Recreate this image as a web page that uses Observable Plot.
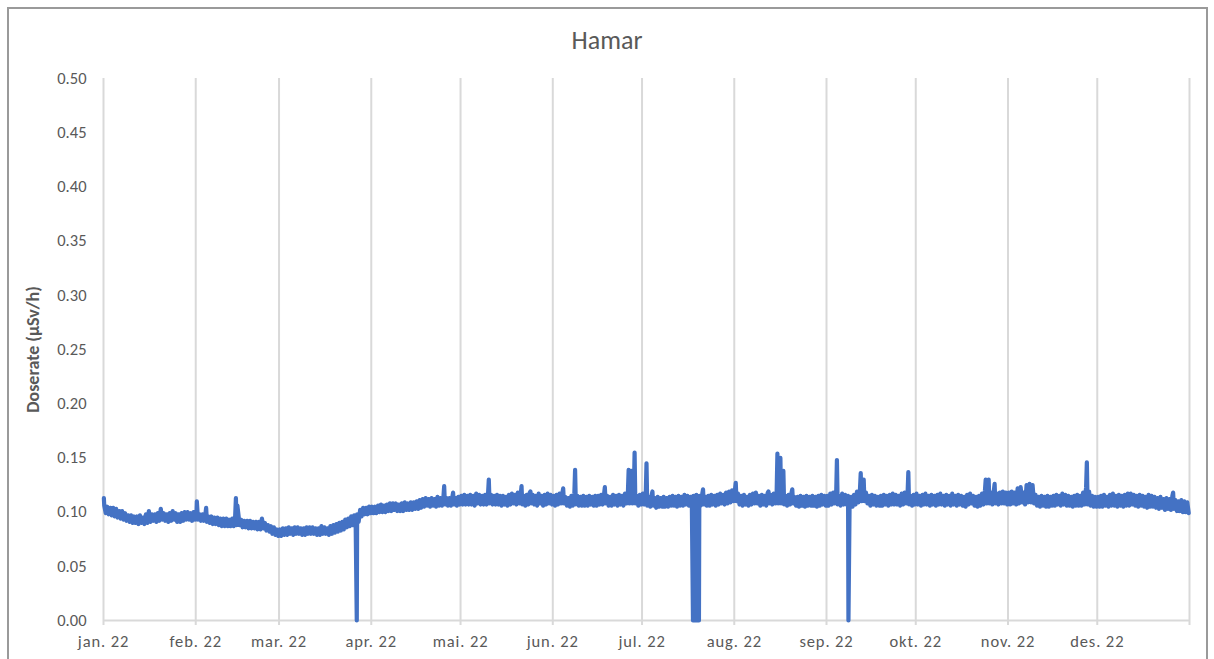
<!DOCTYPE html>
<html>
<head>
<meta charset="utf-8">
<script src="https://cdn.jsdelivr.net/npm/d3@7"></script>
<script src="https://cdn.jsdelivr.net/npm/@observablehq/plot@0.6"></script>
<style>
  html, body { margin: 0; padding: 0; background: #fff; }
  body { width: 1214px; height: 659px; position: relative; overflow: hidden; font-family: Calibri, Carlito, Lato, sans-serif; }
  #frame { position: absolute; left: 7px; top: 7px; width: 1201px; height: 700px; border: 2px solid #9a9a9a; box-sizing: border-box; }
  #title { position: absolute; left: 0; width: 1214px; top: 27px; line-height: 26px; text-align: center; font-size: 26px; color: #595959; }
  #chart { position: absolute; left: 0; top: 0; }
  #chart g[aria-label="x-axis tick label"] text { letter-spacing: 0.9px; }
</style>
</head>
<body>
<div id="frame"></div>
<div id="title">Hamar</div>
<div id="chart"></div>
<script>
// Readings every 12 h (06:00, 18:00) per month, µSv/h
const jan = [0.106,0.099, 0.105,0.098, 0.104,0.097, 0.104,0.096, 0.103,0.095, 0.101,0.094, 0.101,0.093, 0.099,0.092, 0.097,0.091, 0.097,0.090, 0.096,0.090, 0.096,0.089, 0.097,0.090, 0.095,0.089, 0.098,0.090, 0.101,0.091, 0.098,0.092, 0.098,0.091, 0.099,0.092, 0.103,0.093, 0.099,0.092, 0.098,0.091, 0.099,0.092, 0.101,0.093, 0.099,0.091, 0.098,0.091, 0.099,0.092, 0.100,0.093, 0.100,0.093, 0.099,0.092, 0.100,0.093];
const feb = [0.099,0.093, 0.098,0.092, 0.098,0.092, 0.098,0.091, 0.096,0.090, 0.096,0.089, 0.095,0.089, 0.095,0.088, 0.094,0.087, 0.094,0.087, 0.094,0.087, 0.093,0.087, 0.094,0.087, 0.096,0.088, 0.100,0.088, 0.093,0.086, 0.092,0.086, 0.092,0.085, 0.092,0.085, 0.091,0.085, 0.091,0.084, 0.091,0.084, 0.094,0.085, 0.090,0.083, 0.088,0.082, 0.087,0.080, 0.086,0.079, 0.084,0.078];
const mar = [0.084,0.078, 0.085,0.079, 0.085,0.079, 0.086,0.080, 0.085,0.079, 0.086,0.080, 0.086,0.080, 0.085,0.079, 0.085,0.079, 0.086,0.080, 0.086,0.080, 0.086,0.080, 0.085,0.079, 0.085,0.079, 0.087,0.080, 0.086,0.080, 0.085,0.079, 0.087,0.080, 0.088,0.081, 0.089,0.082, 0.090,0.083, 0.091,0.084, 0.093,0.086, 0.094,0.087, 0.096,0.088, 0.097,0.090, 0.098,0.091, 0.102,0.096, 0.104,0.098, 0.104,0.098, 0.105,0.099];
const apr = [0.105,0.099, 0.105,0.099, 0.106,0.100, 0.107,0.100, 0.106,0.100, 0.107,0.101, 0.108,0.101, 0.108,0.102, 0.108,0.101, 0.107,0.101, 0.108,0.101, 0.109,0.102, 0.108,0.102, 0.109,0.102, 0.109,0.103, 0.110,0.103, 0.111,0.104, 0.112,0.105, 0.113,0.106, 0.112,0.105, 0.113,0.106, 0.112,0.105, 0.114,0.106, 0.113,0.106, 0.114,0.107, 0.113,0.106, 0.113,0.106, 0.114,0.107, 0.113,0.106, 0.114,0.107];
const mai = [0.115,0.107, 0.116,0.107, 0.115,0.107, 0.116,0.107, 0.115,0.106, 0.117,0.108, 0.116,0.107, 0.115,0.107, 0.116,0.107, 0.117,0.108, 0.116,0.107, 0.115,0.107, 0.116,0.107, 0.115,0.106, 0.115,0.107, 0.114,0.106, 0.116,0.107, 0.117,0.108, 0.116,0.107, 0.118,0.108, 0.117,0.107, 0.115,0.106, 0.116,0.107, 0.118,0.108, 0.116,0.107, 0.115,0.106, 0.117,0.108, 0.115,0.106, 0.116,0.107, 0.117,0.108, 0.116,0.107];
const jun = [0.115,0.106, 0.116,0.107, 0.117,0.108, 0.118,0.108, 0.114,0.106, 0.113,0.105, 0.115,0.106, 0.117,0.107, 0.115,0.106, 0.114,0.106, 0.115,0.106, 0.114,0.106, 0.115,0.107, 0.114,0.106, 0.115,0.106, 0.115,0.107, 0.116,0.107, 0.117,0.108, 0.115,0.106, 0.114,0.106, 0.116,0.107, 0.115,0.106, 0.116,0.107, 0.115,0.106, 0.117,0.108, 0.118,0.108, 0.119,0.108, 0.118,0.108, 0.115,0.106, 0.116,0.107];
const jul = [0.117,0.107, 0.116,0.106, 0.114,0.105, 0.116,0.106, 0.113,0.104, 0.114,0.105, 0.113,0.105, 0.114,0.105, 0.113,0.105, 0.114,0.106, 0.115,0.106, 0.114,0.105, 0.115,0.106, 0.114,0.106, 0.116,0.107, 0.115,0.106, 0.114,0.105, 0.115,0.106, 0.116,0.107, 0.115,0.106, 0.117,0.107, 0.114,0.106, 0.115,0.106, 0.116,0.107, 0.115,0.106, 0.116,0.107, 0.117,0.108, 0.116,0.107, 0.118,0.108, 0.119,0.109, 0.120,0.110];
const aug = [0.121,0.110, 0.117,0.107, 0.115,0.106, 0.116,0.107, 0.114,0.106, 0.116,0.107, 0.117,0.108, 0.118,0.108, 0.115,0.106, 0.116,0.107, 0.115,0.106, 0.118,0.108, 0.116,0.107, 0.117,0.108, 0.119,0.108, 0.118,0.108, 0.117,0.107, 0.115,0.106, 0.116,0.107, 0.118,0.108, 0.114,0.106, 0.114,0.105, 0.115,0.106, 0.114,0.105, 0.115,0.106, 0.114,0.106, 0.115,0.106, 0.114,0.105, 0.115,0.106, 0.116,0.107, 0.115,0.106];
const sep = [0.115,0.106, 0.117,0.107, 0.118,0.108, 0.117,0.107, 0.115,0.106, 0.117,0.107, 0.116,0.107, 0.115,0.106, 0.114,0.105, 0.116,0.107, 0.119,0.109, 0.121,0.110, 0.123,0.110, 0.118,0.108, 0.115,0.106, 0.116,0.107, 0.115,0.106, 0.114,0.106, 0.115,0.106, 0.116,0.107, 0.115,0.106, 0.116,0.107, 0.117,0.107, 0.116,0.107, 0.115,0.106, 0.117,0.107, 0.118,0.108, 0.117,0.107, 0.115,0.106, 0.116,0.107];
const okt = [0.117,0.107, 0.115,0.106, 0.116,0.107, 0.117,0.107, 0.115,0.106, 0.116,0.107, 0.115,0.106, 0.116,0.107, 0.117,0.107, 0.115,0.106, 0.116,0.107, 0.115,0.106, 0.117,0.107, 0.115,0.106, 0.116,0.107, 0.115,0.106, 0.114,0.105, 0.116,0.107, 0.117,0.108, 0.115,0.106, 0.114,0.105, 0.115,0.106, 0.117,0.107, 0.120,0.108, 0.121,0.108, 0.118,0.107, 0.120,0.108, 0.117,0.107, 0.118,0.108, 0.119,0.108, 0.118,0.107];
const nov = [0.118,0.107, 0.119,0.108, 0.118,0.107, 0.122,0.108, 0.123,0.109, 0.118,0.107, 0.125,0.109, 0.126,0.109, 0.125,0.108, 0.116,0.106, 0.114,0.105, 0.115,0.106, 0.114,0.105, 0.115,0.105, 0.114,0.106, 0.115,0.106, 0.116,0.107, 0.115,0.106, 0.117,0.107, 0.116,0.106, 0.115,0.106, 0.114,0.105, 0.115,0.106, 0.116,0.106, 0.115,0.106, 0.118,0.107, 0.123,0.107, 0.119,0.106, 0.115,0.105, 0.114,0.105];
const des = [0.114,0.105, 0.115,0.105, 0.116,0.106, 0.114,0.105, 0.116,0.106, 0.117,0.106, 0.115,0.105, 0.116,0.106, 0.115,0.105, 0.116,0.106, 0.117,0.106, 0.117,0.107, 0.116,0.106, 0.115,0.105, 0.116,0.106, 0.115,0.105, 0.114,0.104, 0.116,0.105, 0.115,0.105, 0.114,0.104, 0.113,0.103, 0.114,0.104, 0.112,0.102, 0.113,0.103, 0.112,0.102, 0.115,0.103, 0.111,0.101, 0.110,0.101, 0.111,0.100, 0.110,0.100, 0.109,0.099];

// Short peaks (UTC time, µSv/h)
const spikes = [
  ["2022-01-01T03:00", 0.113], ["2022-02-01T09:00", 0.110], ["2022-02-04T12:00", 0.104],
  ["2022-02-14T12:00", 0.113], ["2022-02-15T00:00", 0.106], ["2022-04-25T12:00", 0.124],
  ["2022-04-28T12:00", 0.118], ["2022-05-10T12:00", 0.130], ["2022-05-21T12:00", 0.124],
  ["2022-05-24T12:00", 0.119], ["2022-06-04T12:00", 0.122], ["2022-06-08T12:00", 0.139],
  ["2022-06-18T12:00", 0.123], ["2022-06-26T12:00", 0.139], ["2022-06-27T12:00", 0.138],
  ["2022-06-28T12:00", 0.155], ["2022-07-02T12:00", 0.145], ["2022-07-04T12:00", 0.119],
  ["2022-07-21T12:00", 0.121], ["2022-08-01T12:00", 0.127], ["2022-08-12T12:00", 0.119],
  ["2022-08-15T12:00", 0.154], ["2022-08-16T12:00", 0.150], ["2022-08-17T12:00", 0.138],
  ["2022-08-20T12:00", 0.121], ["2022-09-04T12:00", 0.148], ["2022-09-12T12:00", 0.136],
  ["2022-09-13T12:00", 0.130], ["2022-09-28T12:00", 0.137], ["2022-10-24T12:00", 0.130],
  ["2022-10-25T12:00", 0.130], ["2022-10-27T12:00", 0.126], ["2022-11-27T12:00", 0.146],
  ["2022-12-26T12:00", 0.118]
];
// Zero readings (instrument dropouts)
const zeros = ["2022-03-27T03:00", "2022-07-18T03:00", "2022-07-18T15:00", "2022-07-19T03:00",
  "2022-07-19T15:00", "2022-07-20T03:00", "2022-09-08T09:00"];

const monthLabels = ["jan. 22","feb. 22","mar. 22","apr. 22","mai. 22","jun. 22","jul. 22","aug. 22","sep. 22","okt. 22","nov. 22","des. 22"];
const yTicks = [0, 0.05, 0.10, 0.15, 0.20, 0.25, 0.30, 0.35, 0.40, 0.45, 0.50];

const months = [jan, feb, mar, apr, mai, jun, jul, aug, sep, okt, nov, des];
const series = [];
months.forEach((vals, m) => {
  for (let i = 0; i < vals.length; i += 2) {
    const day = i / 2 + 1;
    series.push({date: new Date(Date.UTC(2022, m, day, 6)), value: vals[i]});
    series.push({date: new Date(Date.UTC(2022, m, day, 18)), value: vals[i + 1]});
  }
});
spikes.forEach(([t, v]) => series.push({date: new Date(t + ":00Z"), value: v}));
zeros.forEach(t => series.push({date: new Date(t + ":00Z"), value: 0}));
series.sort((a, b) => a.date - b.date);

const tickDates = d3.range(12).map(m => new Date(Date.UTC(2022, m, 1)));
const gridDates = d3.range(13).map(m => new Date(Date.UTC(2022, m, 1)));

const chart = Plot.plot({
  width: 1214,
  height: 659,
  marginLeft: 103,
  marginRight: 25,
  marginTop: 78,
  marginBottom: 39,
  style: {fontFamily: "Calibri, Carlito, Lato, sans-serif", fontSize: "16.5px", color: "#595959", background: "transparent"},
  x: {type: "utc", domain: [new Date(Date.UTC(2022, 0, 1)), new Date(Date.UTC(2023, 0, 1))]},
  y: {domain: [0, 0.5]},
  marks: [
    Plot.ruleX(gridDates, {stroke: "#d9d9d9", strokeWidth: 2, insetBottom: -5}),
    Plot.ruleY([0], {stroke: "#d9d9d9", strokeWidth: 2}),
    Plot.axisY({ticks: yTicks, tickFormat: d3.format(".2f"), tickSize: 0, tickPadding: 17, label: null}),
    Plot.axisX({ticks: tickDates, tickFormat: d => monthLabels[d.getUTCMonth()], tickSize: 0, tickPadding: 15, label: null}),
    Plot.text(["Doserate (µSv/h)"], {text: d => d, frameAnchor: "left", dx: -70, rotate: -90, textAnchor: "middle", lineAnchor: "middle", fontWeight: "bold", fontSize: 18, fill: "#595959"}),
    Plot.line(series, {x: "date", y: "value", stroke: "#4472C4", strokeWidth: 4.2, strokeLinejoin: "round", strokeLinecap: "round"})
  ]
});
document.getElementById("chart").appendChild(chart);
</script>
</body>
</html>
